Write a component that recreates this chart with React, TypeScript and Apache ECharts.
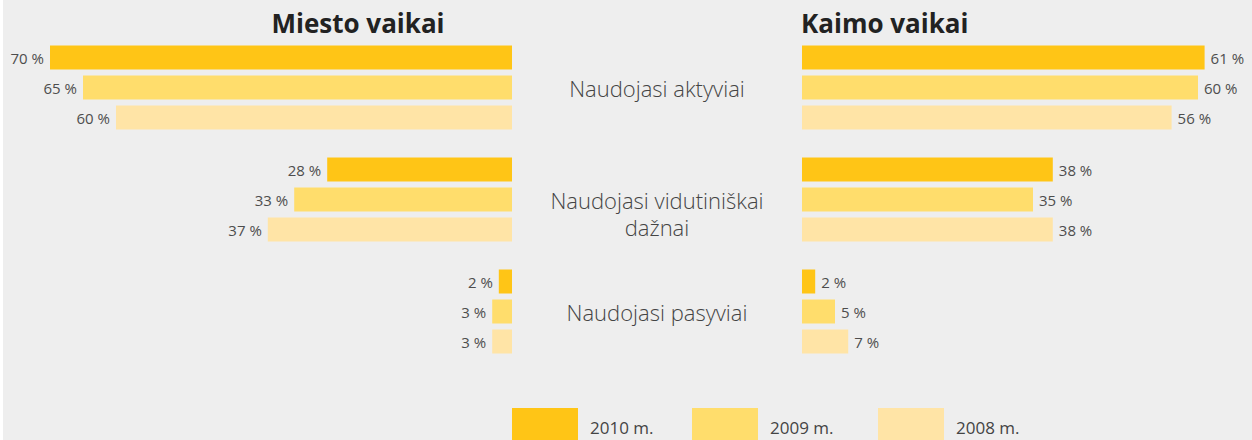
import React, { useEffect, useRef } from "react";
import * as echarts from "echarts";

const categories = ["Naudojasi aktyviai", "Naudojasi vidutiniškai\ndažnai", "Naudojasi pasyviai"];
const seriesNames = ["2010 m.", "2009 m.", "2008 m."];
const miesto2010 = [70, 28, 2];
const miesto2009 = [65, 33, 3];
const miesto2008 = [60, 37, 3];
const kaimo2010 = [61, 38, 2];
const kaimo2009 = [60, 35, 5];
const kaimo2008 = [56, 38, 7];
const titles = ["Miesto vaikai", "Kaimo vaikai"];
const colors = ["#FFC516", "#FFDD6C", "#FFE4A6"];

const FONT = "'Open Sans', 'Noto Sans', sans-serif";

export default function App() {
  const ref = useRef<HTMLDivElement>(null);
  useEffect(() => {
    if (!ref.current) return;
    const chart = echarts.init(ref.current, undefined, { renderer: "svg" });
    const mk = (name: string, data: number[], idx: number, color: string, left: boolean) => ({
      type: "bar",
      name,
      data,
      xAxisIndex: idx,
      yAxisIndex: idx,
      barWidth: 24,
      barGap: "25%",
      itemStyle: { color },
      label: {
        show: true,
        position: left ? "left" : "right",
        distance: 6,
        formatter: "{c} %",
        color: "#4d4d4d",
        fontSize: 15,
        fontFamily: FONT,
      },
    });
    const legendLefts = [509, 689, 875];
    chart.setOption({
      animation: false,
      backgroundColor: "#eeeeee",
      title: [
        {
          text: titles[0],
          left: 350,
          top: 5,
          textAlign: "center",
          textStyle: { fontSize: 26, fontWeight: "bold", color: "#222", fontFamily: FONT },
        },
        {
          text: titles[1],
          left: 793,
          top: 5,
          textStyle: { fontSize: 26, fontWeight: "bold", color: "#222", fontFamily: FONT },
        },
      ],
      legend: seriesNames.map((n, i) => ({
        data: [n],
        left: legendLefts[i],
        top: 408,
        padding: 0,
        itemWidth: 66,
        itemHeight: 38,
        icon: "rect",
        selectedMode: false,
        textStyle: { fontSize: 17, color: "#444", fontFamily: FONT, padding: [0, 0, 0, 7] },
      })),
      grid: [
        { left: 47, top: 31.5, width: 462, height: 336 },
        { left: 799, top: 31.5, width: 429, height: 336 },
      ],
      xAxis: [
        { type: "value", gridIndex: 0, min: 0, max: 70, inverse: true, show: false },
        { type: "value", gridIndex: 1, min: 0, max: 65, show: false },
      ],
      yAxis: [
        { type: "category", gridIndex: 0, data: categories, inverse: true, show: false },
        { type: "category", gridIndex: 1, data: categories, inverse: true, show: false },
      ],
      series: [
        mk(seriesNames[0], miesto2010, 0, colors[0], true),
        mk(seriesNames[1], miesto2009, 0, colors[1], true),
        mk(seriesNames[2], miesto2008, 0, colors[2], true),
        mk(seriesNames[0], kaimo2010, 1, colors[0], false),
        mk(seriesNames[1], kaimo2009, 1, colors[1], false),
        mk(seriesNames[2], kaimo2008, 1, colors[2], false),
      ],
    });
    // category labels in the middle, placed on the category axis' band centres
    const xLeftEnd = chart.convertToPixel({ xAxisIndex: 0 }, 0) as number;
    const xRightStart = chart.convertToPixel({ xAxisIndex: 1 }, 0) as number;
    const cx = (xLeftEnd + xRightStart) / 2;
    const LH = 27;
    chart.setOption({
      graphic: categories.map((c, i) => {
        const y = chart.convertToPixel({ yAxisIndex: 0 }, c) as number;
        return {
          type: "text",
          x: cx,
          y: y - LH / 2,
          style: {
            text: c,
            align: "center",
            verticalAlign: "top",
            fontSize: 22,
            lineHeight: LH,
            fontFamily: FONT,
            fontWeight: 300,
            fill: "#444",
          },
        };
      }),
    });
    return () => chart.dispose();
  }, []);
  return (
    <div
      ref={ref}
      style={{ position: "absolute", left: 3, top: 0, width: 1249, height: 440 }}
    />
  );
}
